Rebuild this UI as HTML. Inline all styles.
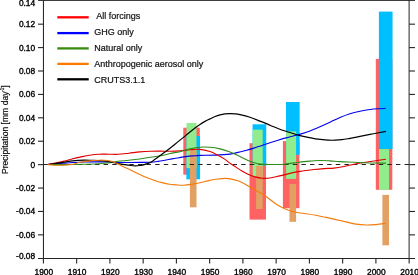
<!DOCTYPE html>
<html><head><meta charset="utf-8">
<style>
html,body{margin:0;padding:0;background:#fff;}
body{width:418px;height:275px;overflow:hidden;}
svg{display:block;will-change:transform;}
.t{font-family:"Liberation Sans",sans-serif;font-size:8.4px;fill:#000;stroke:#000;stroke-width:0.35px;}
.l{font-family:"Liberation Sans",sans-serif;font-size:9px;fill:#111;stroke:#111;stroke-width:0.2px;}
</style></head>
<body>
<svg width="418" height="275" viewBox="0 0 418 275">
<rect width="418" height="275" fill="#fff"/>
<rect x="183.30" y="127.70" width="16.50" height="47.00" fill="#ff6262"/>
<rect x="186.40" y="136.00" width="13.65" height="43.30" fill="#00bfff"/>
<rect x="186.50" y="123.00" width="10.00" height="45.10" fill="#90ec8c"/>
<rect x="189.90" y="150.30" width="6.60" height="57.00" fill="#e2a062"/>
<rect x="249.50" y="143.20" width="16.50" height="76.40" fill="#ff6262"/>
<rect x="252.60" y="124.30" width="13.65" height="41.30" fill="#00bfff"/>
<rect x="252.70" y="129.60" width="10.00" height="47.40" fill="#90ec8c"/>
<rect x="256.10" y="165.90" width="6.60" height="43.10" fill="#e2a062"/>
<rect x="282.90" y="141.10" width="16.50" height="67.10" fill="#ff6262"/>
<rect x="286.00" y="102.00" width="13.65" height="52.90" fill="#00bfff"/>
<rect x="286.10" y="131.40" width="10.00" height="47.50" fill="#90ec8c"/>
<rect x="289.50" y="184.00" width="6.60" height="37.80" fill="#e2a062"/>
<rect x="375.80" y="58.90" width="16.50" height="130.90" fill="#ff6262"/>
<rect x="378.90" y="11.60" width="13.65" height="137.50" fill="#00bfff"/>
<rect x="379.00" y="149.10" width="10.00" height="40.80" fill="#90ec8c"/>
<rect x="382.40" y="194.90" width="6.60" height="50.40" fill="#e2a062"/>
<line x1="43.4" y1="164.55" x2="415" y2="164.55" stroke="#222" stroke-width="1.1" stroke-dasharray="4.4 4.2"/>
<path d="M47.80,164.50 C50.33,164.30 58.85,163.63 63.00,163.30 C67.15,162.97 69.20,162.72 72.70,162.50 C76.20,162.28 81.18,162.10 84.00,162.00 C86.82,161.90 87.08,161.92 89.60,161.90 C92.12,161.88 95.92,161.85 99.10,161.90 C102.28,161.95 105.22,162.10 108.70,162.20 C112.18,162.30 114.82,162.47 120.00,162.50 C125.18,162.53 134.68,162.45 139.80,162.40 C144.92,162.35 147.67,162.37 150.70,162.20 C153.73,162.03 155.62,161.73 158.00,161.40 C160.38,161.07 162.67,160.62 165.00,160.20 C167.33,159.78 169.67,159.32 172.00,158.90 C174.33,158.48 176.67,158.08 179.00,157.70 C181.33,157.32 183.67,156.90 186.00,156.60 C188.33,156.30 190.67,156.10 193.00,155.90 C195.33,155.70 196.33,155.53 200.00,155.40 C203.67,155.27 210.00,155.32 215.00,155.10 C220.00,154.88 226.17,154.55 230.00,154.10 C233.83,153.65 235.50,152.98 238.00,152.40 C240.50,151.82 242.33,151.32 245.00,150.60 C247.67,149.88 251.17,148.97 254.00,148.10 C256.83,147.23 259.33,146.30 262.00,145.40 C264.67,144.50 267.33,143.57 270.00,142.70 C272.67,141.83 275.33,141.00 278.00,140.20 C280.67,139.40 283.33,138.63 286.00,137.90 C288.67,137.17 291.33,136.52 294.00,135.80 C296.67,135.08 299.33,134.42 302.00,133.60 C304.67,132.78 307.00,132.05 310.00,130.90 C313.00,129.75 316.67,128.15 320.00,126.70 C323.33,125.25 326.67,123.73 330.00,122.20 C333.33,120.67 336.67,118.90 340.00,117.50 C343.33,116.10 346.67,114.83 350.00,113.80 C353.33,112.77 356.67,112.02 360.00,111.30 C363.33,110.58 367.00,109.93 370.00,109.50 C373.00,109.07 375.38,108.88 378.00,108.70 C380.62,108.52 384.42,108.45 385.70,108.40" fill="none" stroke="#0000ee" stroke-width="1.10" stroke-linejoin="round"/>
<path d="M47.80,164.50 C50.35,163.98 58.95,162.37 63.10,161.40 C67.25,160.43 69.88,159.42 72.70,158.70 C75.52,157.98 77.18,157.68 80.00,157.10 C82.82,156.52 86.42,155.68 89.60,155.20 C92.78,154.72 95.92,154.37 99.10,154.20 C102.28,154.03 105.55,154.18 108.70,154.20 C111.85,154.22 114.63,154.47 118.00,154.30 C121.37,154.13 125.27,153.60 128.90,153.20 C132.53,152.80 136.17,152.23 139.80,151.90 C143.43,151.57 147.33,151.33 150.70,151.20 C154.07,151.07 156.78,151.08 160.00,151.10 C163.22,151.12 166.67,151.33 170.00,151.30 C173.33,151.27 176.67,151.15 180.00,150.90 C183.33,150.65 186.67,150.05 190.00,149.80 C193.33,149.55 196.67,149.10 200.00,149.40 C203.33,149.70 207.17,150.70 210.00,151.60 C212.83,152.50 214.50,153.50 217.00,154.80 C219.50,156.10 222.83,157.98 225.00,159.40 C227.17,160.82 228.17,162.02 230.00,163.30 C231.83,164.58 234.00,165.82 236.00,167.10 C238.00,168.38 240.00,169.80 242.00,171.00 C244.00,172.20 245.83,173.32 248.00,174.30 C250.17,175.28 252.67,176.23 255.00,176.90 C257.33,177.57 259.83,178.08 262.00,178.30 C264.17,178.52 265.67,178.45 268.00,178.20 C270.33,177.95 273.33,177.35 276.00,176.80 C278.67,176.25 281.33,175.55 284.00,174.90 C286.67,174.25 289.33,173.48 292.00,172.90 C294.67,172.32 297.67,171.80 300.00,171.40 C302.33,171.00 303.67,170.82 306.00,170.50 C308.33,170.18 311.00,169.82 314.00,169.50 C317.00,169.18 320.67,168.83 324.00,168.60 C327.33,168.37 330.67,168.45 334.00,168.10 C337.33,167.75 340.67,167.15 344.00,166.50 C347.33,165.85 350.67,164.87 354.00,164.20 C357.33,163.53 360.67,163.03 364.00,162.50 C367.33,161.97 370.35,161.53 374.00,161.00 C377.65,160.47 383.92,159.58 385.90,159.30" fill="none" stroke="#e00000" stroke-width="1.10" stroke-linejoin="round"/>
<path d="M47.80,164.50 C49.83,164.52 55.85,164.60 60.00,164.60 C64.15,164.60 68.70,164.55 72.70,164.50 C76.70,164.45 79.60,164.42 84.00,164.30 C88.40,164.18 94.77,164.05 99.10,163.80 C103.43,163.55 106.85,163.22 110.00,162.80 C113.15,162.38 114.85,161.72 118.00,161.30 C121.15,160.88 125.27,160.68 128.90,160.30 C132.53,159.92 136.17,159.52 139.80,159.00 C143.43,158.48 147.33,157.70 150.70,157.20 C154.07,156.70 156.78,156.62 160.00,156.00 C163.22,155.38 166.67,154.22 170.00,153.50 C173.33,152.78 176.67,152.47 180.00,151.70 C183.33,150.93 186.67,149.65 190.00,148.90 C193.33,148.15 196.67,147.47 200.00,147.20 C203.33,146.93 206.67,147.02 210.00,147.30 C213.33,147.58 216.67,148.10 220.00,148.90 C223.33,149.70 227.00,150.98 230.00,152.10 C233.00,153.22 235.00,154.20 238.00,155.60 C241.00,157.00 244.67,159.13 248.00,160.50 C251.33,161.87 255.17,163.15 258.00,163.80 C260.83,164.45 262.67,164.28 265.00,164.40 C267.33,164.52 269.83,164.48 272.00,164.50 C274.17,164.52 276.00,164.55 278.00,164.50 C280.00,164.45 281.33,164.47 284.00,164.20 C286.67,163.93 290.67,163.33 294.00,162.90 C297.33,162.47 301.00,161.92 304.00,161.60 C307.00,161.28 309.33,161.18 312.00,161.00 C314.67,160.82 317.00,160.52 320.00,160.50 C323.00,160.48 326.67,160.72 330.00,160.90 C333.33,161.08 336.00,161.38 340.00,161.60 C344.00,161.82 350.00,162.02 354.00,162.20 C358.00,162.38 360.67,162.57 364.00,162.70 C367.33,162.83 370.35,162.93 374.00,163.00 C377.65,163.07 383.92,163.08 385.90,163.10" fill="none" stroke="#2e8a1a" stroke-width="1.10" stroke-linejoin="round"/>
<path d="M47.80,164.50 C50.33,164.15 58.85,163.00 63.00,162.40 C67.15,161.80 69.20,161.27 72.70,160.90 C76.20,160.53 80.78,160.28 84.00,160.20 C87.22,160.12 89.33,160.32 92.00,160.40 C94.67,160.48 97.22,160.53 100.00,160.70 C102.78,160.87 105.70,160.90 108.70,161.40 C111.70,161.90 114.63,163.07 118.00,163.70 C121.37,164.33 126.07,164.83 128.90,165.20 C131.73,165.57 133.15,165.85 135.00,165.90 C136.85,165.95 138.33,165.75 140.00,165.50 C141.67,165.25 143.22,164.95 145.00,164.40 C146.78,163.85 149.03,163.05 150.70,162.20 C152.37,161.35 153.45,160.40 155.00,159.30 C156.55,158.20 158.33,156.82 160.00,155.60 C161.67,154.38 163.33,153.23 165.00,152.00 C166.67,150.77 168.33,149.50 170.00,148.20 C171.67,146.90 173.33,145.55 175.00,144.20 C176.67,142.85 178.33,141.45 180.00,140.10 C181.67,138.75 183.33,137.45 185.00,136.10 C186.67,134.75 188.33,133.35 190.00,132.00 C191.67,130.65 193.33,129.27 195.00,128.00 C196.67,126.73 198.33,125.50 200.00,124.40 C201.67,123.30 203.33,122.32 205.00,121.40 C206.67,120.48 208.33,119.72 210.00,118.90 C211.67,118.08 213.33,117.18 215.00,116.50 C216.67,115.82 218.33,115.23 220.00,114.80 C221.67,114.37 223.33,114.10 225.00,113.90 C226.67,113.70 228.33,113.62 230.00,113.60 C231.67,113.58 233.33,113.63 235.00,113.80 C236.67,113.97 237.50,114.02 240.00,114.60 C242.50,115.18 246.67,116.22 250.00,117.30 C253.33,118.38 256.67,119.78 260.00,121.10 C263.33,122.42 266.50,123.75 270.00,125.20 C273.50,126.65 277.33,128.47 281.00,129.80 C284.67,131.13 288.83,132.23 292.00,133.20 C295.17,134.17 297.00,134.85 300.00,135.60 C303.00,136.35 307.00,137.10 310.00,137.70 C313.00,138.30 315.00,138.80 318.00,139.20 C321.00,139.60 325.17,139.93 328.00,140.10 C330.83,140.27 332.67,140.27 335.00,140.20 C337.33,140.13 339.50,140.02 342.00,139.70 C344.50,139.38 347.00,138.85 350.00,138.30 C353.00,137.75 356.67,137.05 360.00,136.40 C363.33,135.75 366.67,135.05 370.00,134.40 C373.33,133.75 377.35,133.02 380.00,132.50 C382.65,131.98 384.92,131.50 385.90,131.30" fill="none" stroke="#000000" stroke-width="1.20" stroke-linejoin="round"/>
<path d="M47.80,164.60 C49.00,164.70 52.47,165.10 55.00,165.20 C57.53,165.30 60.05,165.35 63.00,165.20 C65.95,165.05 69.87,164.78 72.70,164.30 C75.53,163.82 77.18,162.87 80.00,162.30 C82.82,161.73 86.42,161.25 89.60,160.90 C92.78,160.55 96.72,160.32 99.10,160.20 C101.48,160.08 102.30,160.12 103.90,160.20 C105.50,160.28 106.85,160.32 108.70,160.70 C110.55,161.08 113.12,161.78 115.00,162.50 C116.88,163.22 118.33,164.18 120.00,165.00 C121.67,165.82 123.33,166.60 125.00,167.40 C126.67,168.20 128.33,169.00 130.00,169.80 C131.67,170.60 133.33,171.40 135.00,172.20 C136.67,173.00 138.17,173.75 140.00,174.60 C141.83,175.45 143.57,176.33 146.00,177.30 C148.43,178.27 151.93,179.52 154.60,180.40 C157.27,181.28 159.58,181.97 162.00,182.60 C164.42,183.23 166.70,183.82 169.10,184.20 C171.50,184.58 173.97,184.73 176.40,184.90 C178.83,185.07 181.27,185.28 183.70,185.20 C186.13,185.12 188.28,184.82 191.00,184.40 C193.72,183.98 197.50,183.22 200.00,182.70 C202.50,182.18 203.33,181.87 206.00,181.30 C208.67,180.73 212.67,179.78 216.00,179.30 C219.33,178.82 223.43,178.43 226.00,178.40 C228.57,178.37 229.28,178.67 231.40,179.10 C233.52,179.53 236.27,180.07 238.70,181.00 C241.13,181.93 243.28,183.20 246.00,184.70 C248.72,186.20 252.28,188.48 255.00,190.00 C257.72,191.52 259.87,192.27 262.30,193.80 C264.73,195.33 267.18,197.42 269.60,199.20 C272.02,200.98 274.38,202.97 276.80,204.50 C279.22,206.03 281.67,207.28 284.10,208.40 C286.53,209.52 288.97,210.47 291.40,211.20 C293.83,211.93 296.27,212.38 298.70,212.80 C301.13,213.22 303.12,213.28 306.00,213.70 C308.88,214.12 312.67,214.68 316.00,215.30 C319.33,215.92 322.67,216.68 326.00,217.40 C329.33,218.12 332.67,218.85 336.00,219.60 C339.33,220.35 342.67,221.15 346.00,221.90 C349.33,222.65 352.67,223.58 356.00,224.10 C359.33,224.62 362.67,224.92 366.00,225.00 C369.33,225.08 372.75,224.87 376.00,224.60 C379.25,224.33 383.92,223.60 385.50,223.40" fill="none" stroke="#f47a0a" stroke-width="1.10" stroke-linejoin="round"/>
<line x1="43.45" y1="0" x2="43.45" y2="258.5" stroke="#262626" stroke-width="1.05"/>
<line x1="409.1" y1="0" x2="409.1" y2="258.5" stroke="#262626" stroke-width="1.0"/>
<line x1="38" y1="258.55" x2="415" y2="258.55" stroke="#262626" stroke-width="1.05"/>
<line x1="38" y1="0.4" x2="415" y2="0.4" stroke="#262626" stroke-width="1.0"/>
<text x="35.2" y="5.60" text-anchor="end" class="t">0.14</text>
<line x1="38" y1="24.18" x2="43.5" y2="24.18" stroke="#262626" stroke-width="1.1"/>
<line x1="409.1" y1="24.18" x2="415" y2="24.18" stroke="#262626" stroke-width="1.1"/>
<text x="35.2" y="27.13" text-anchor="end" class="t">0.12</text>
<line x1="38" y1="47.59" x2="43.5" y2="47.59" stroke="#262626" stroke-width="1.1"/>
<line x1="409.1" y1="47.59" x2="415" y2="47.59" stroke="#262626" stroke-width="1.1"/>
<text x="35.2" y="50.54" text-anchor="end" class="t">0.10</text>
<line x1="38" y1="71.00" x2="43.5" y2="71.00" stroke="#262626" stroke-width="1.1"/>
<line x1="409.1" y1="71.00" x2="415" y2="71.00" stroke="#262626" stroke-width="1.1"/>
<text x="35.2" y="73.95" text-anchor="end" class="t">0.08</text>
<line x1="38" y1="94.41" x2="43.5" y2="94.41" stroke="#262626" stroke-width="1.1"/>
<line x1="409.1" y1="94.41" x2="415" y2="94.41" stroke="#262626" stroke-width="1.1"/>
<text x="35.2" y="97.36" text-anchor="end" class="t">0.06</text>
<line x1="38" y1="117.82" x2="43.5" y2="117.82" stroke="#262626" stroke-width="1.1"/>
<line x1="409.1" y1="117.82" x2="415" y2="117.82" stroke="#262626" stroke-width="1.1"/>
<text x="35.2" y="120.77" text-anchor="end" class="t">0.04</text>
<line x1="38" y1="141.23" x2="43.5" y2="141.23" stroke="#262626" stroke-width="1.1"/>
<line x1="409.1" y1="141.23" x2="415" y2="141.23" stroke="#262626" stroke-width="1.1"/>
<text x="35.2" y="144.18" text-anchor="end" class="t">0.02</text>
<line x1="38" y1="164.64" x2="43.5" y2="164.64" stroke="#262626" stroke-width="1.1"/>
<line x1="409.1" y1="164.64" x2="415" y2="164.64" stroke="#262626" stroke-width="1.1"/>
<text x="35.2" y="167.59" text-anchor="end" class="t">0</text>
<line x1="38" y1="188.05" x2="43.5" y2="188.05" stroke="#262626" stroke-width="1.1"/>
<line x1="409.1" y1="188.05" x2="415" y2="188.05" stroke="#262626" stroke-width="1.1"/>
<text x="35.2" y="191.00" text-anchor="end" class="t">-0.02</text>
<line x1="38" y1="211.46" x2="43.5" y2="211.46" stroke="#262626" stroke-width="1.1"/>
<line x1="409.1" y1="211.46" x2="415" y2="211.46" stroke="#262626" stroke-width="1.1"/>
<text x="35.2" y="214.41" text-anchor="end" class="t">-0.04</text>
<line x1="38" y1="234.87" x2="43.5" y2="234.87" stroke="#262626" stroke-width="1.1"/>
<line x1="409.1" y1="234.87" x2="415" y2="234.87" stroke="#262626" stroke-width="1.1"/>
<text x="35.2" y="237.82" text-anchor="end" class="t">-0.06</text>
<text x="35.2" y="259.28" text-anchor="end" class="t">-0.08</text>
<line x1="43.40" y1="258.3" x2="43.40" y2="263.5" stroke="#262626" stroke-width="1.1"/>
<text x="43.80" y="274.6" text-anchor="middle" class="t">1900</text>
<line x1="76.65" y1="258.3" x2="76.65" y2="263.5" stroke="#262626" stroke-width="1.1"/>
<text x="77.05" y="274.6" text-anchor="middle" class="t">1910</text>
<line x1="109.90" y1="258.3" x2="109.90" y2="263.5" stroke="#262626" stroke-width="1.1"/>
<text x="110.30" y="274.6" text-anchor="middle" class="t">1920</text>
<line x1="143.15" y1="258.3" x2="143.15" y2="263.5" stroke="#262626" stroke-width="1.1"/>
<text x="143.55" y="274.6" text-anchor="middle" class="t">1930</text>
<line x1="176.40" y1="258.3" x2="176.40" y2="263.5" stroke="#262626" stroke-width="1.1"/>
<text x="176.80" y="274.6" text-anchor="middle" class="t">1940</text>
<line x1="209.65" y1="258.3" x2="209.65" y2="263.5" stroke="#262626" stroke-width="1.1"/>
<text x="210.05" y="274.6" text-anchor="middle" class="t">1950</text>
<line x1="242.90" y1="258.3" x2="242.90" y2="263.5" stroke="#262626" stroke-width="1.1"/>
<text x="243.30" y="274.6" text-anchor="middle" class="t">1960</text>
<line x1="276.15" y1="258.3" x2="276.15" y2="263.5" stroke="#262626" stroke-width="1.1"/>
<text x="276.55" y="274.6" text-anchor="middle" class="t">1970</text>
<line x1="309.40" y1="258.3" x2="309.40" y2="263.5" stroke="#262626" stroke-width="1.1"/>
<text x="309.80" y="274.6" text-anchor="middle" class="t">1980</text>
<line x1="342.65" y1="258.3" x2="342.65" y2="263.5" stroke="#262626" stroke-width="1.1"/>
<text x="343.05" y="274.6" text-anchor="middle" class="t">1990</text>
<line x1="375.90" y1="258.3" x2="375.90" y2="263.5" stroke="#262626" stroke-width="1.1"/>
<text x="376.30" y="274.6" text-anchor="middle" class="t">2000</text>
<line x1="409.15" y1="258.3" x2="409.15" y2="263.5" stroke="#262626" stroke-width="1.1"/>
<text x="409.55" y="274.6" text-anchor="middle" class="t">2010</text>
<line x1="57.3" y1="17.30" x2="88.7" y2="17.30" stroke="#ff0000" stroke-width="2.3"/>
<text x="94.3" y="19.10" class="l" xml:space="preserve"> All forcings</text>
<line x1="57.3" y1="33.10" x2="88.7" y2="33.10" stroke="#0000ff" stroke-width="2.3"/>
<text x="94.3" y="35.20" class="l" xml:space="preserve">GHG only</text>
<line x1="57.3" y1="48.40" x2="88.7" y2="48.40" stroke="#3a8a10" stroke-width="2.3"/>
<text x="94.3" y="51.20" class="l" xml:space="preserve">Natural only</text>
<line x1="57.3" y1="63.90" x2="88.7" y2="63.90" stroke="#ff7a00" stroke-width="2.3"/>
<text x="94.3" y="67.30" class="l" xml:space="preserve">Anthropogenic aerosol only</text>
<line x1="57.3" y1="79.30" x2="88.7" y2="79.30" stroke="#000000" stroke-width="2.3"/>
<text x="94.3" y="83.30" class="l" xml:space="preserve">CRUTS3.1.1</text>
<g transform="translate(7.75,174.1) rotate(-90)"><text x="0" y="0" class="l" style="font-size:8.6px">Precipitation [mm day<tspan dx="-0.2" dy="-3.3" style="font-size:4.6px">-1</tspan><tspan dx="-0.1" dy="3.3">]</tspan></text></g>
</svg>
</body></html>
